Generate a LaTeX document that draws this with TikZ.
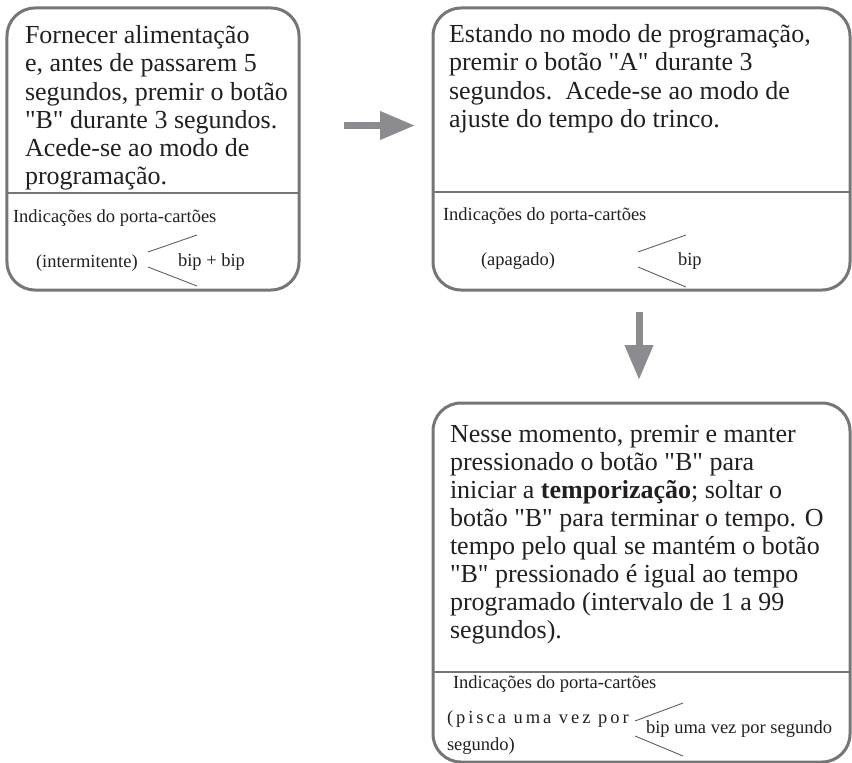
\documentclass[tikz,border=0pt]{standalone}
\usepackage{fontspec}
\setmainfont{Liberation Serif}[Ligatures=TeXOff]
\newfontfamily\spacedfont[LetterSpace=16,Ligatures=TeXOff]{Liberation Serif}
\usetikzlibrary{arrows.meta}
\definecolor{boxgray}{HTML}{767676}
\definecolor{arrgray}{HTML}{8C8C90}
\definecolor{txtblack}{HTML}{231F20}
\definecolor{diaggray}{HTML}{606060}
\newcommand{\bigtxt}{\fontsize{26bp}{28bp}\selectfont}
\newcommand{\smalltxt}{\fontsize{18.5bp}{22bp}\selectfont}
\begin{document}
\begin{tikzpicture}[x=1bp,y=-1bp,
  box/.style={draw=boxgray, line width=3bp, rounded corners=28bp, inner sep=0pt, outer sep=0pt},
  txt/.style={anchor=base west, inner sep=0pt, outer sep=0pt, text=txtblack},
  sepline/.style={draw=boxgray, line width=2bp},
  diag/.style={draw=diaggray, line width=0.9bp},
  bigarrow/.style={draw=arrgray, line width=7bp, -{Triangle[length=35bp,width=27bp]}}
]
\useasboundingbox (0,0) rectangle (852,763);

% boxes
\node[box, minimum width=292bp, minimum height=282bp] (b1) at (153,149) {};
\node[box, minimum width=417bp, minimum height=282bp] (b2) at (641.5,149) {};
\node[box, minimum width=417bp, minimum height=359bp] (b3) at (641.5,582.5) {};

% separators
\coordinate (s1) at (0,193);
\coordinate (s2) at (0,192);
\coordinate (s3) at (0,672);
\draw[sepline] (b1.west |- s1) -- (b1.east |- s1);
\draw[sepline] (b2.west |- s2) -- (b2.east |- s2);
\draw[sepline] (b3.west |- s3) -- (b3.east |- s3);

% main texts
\node[txt] (t1) at (25,44) {\parbox[t]{290bp}{\bigtxt\raggedright
Fornecer alimentação\\
e, antes de passarem 5\\
segundos, premir o botão\\
"B" durante 3 segundos.\\
Acede-se ao modo de\\
programação.}};
\node[txt] (t2) at (449,43) {\parbox[t]{400bp}{\bigtxt\raggedright
Estando no modo de programação,\\
premir o botão "A" durante 3\\
segundos.\ \ Acede-se ao modo de\\
ajuste do tempo do trinco.}};
\node[txt] (t3) at (450,442) {\parbox[t]{400bp}{\bigtxt\raggedright
Nesse momento, premir e manter\\
pressionado o botão "B" para\\
iniciar a \textbf{temporização}; soltar o\\
botão "B" para terminar o tempo. O\\
tempo pelo qual se mantém o botão\\
"B" pressionado é igual ao tempo\\
programado (intervalo de 1 a 99\\
segundos).}};

% indicator texts
\node[txt] (i1) at (13,222) {\smalltxt Indicações do porta-cartões};
\node[txt] (i2) at (443,220) {\smalltxt Indicações do porta-cartões};
\node[txt] (i3) at (453,688) {\smalltxt Indicações do porta-cartões};

\node[txt] (l1) at (36,267) {\smalltxt (intermitente)};
\node[txt] (r1) at (178,266) {\smalltxt bip + bip};
\node[txt] (l2) at (481,265) {\smalltxt (apagado)};
\node[txt] (r2) at (678,265) {\smalltxt bip};
\node[txt] (l3a) at (447,723) {\spacedfont\smalltxt (pisca uma vez por};
\node[txt] (l3b) at (447,750) {\smalltxt segundo)};
\node[txt] (r3) at (646,733) {\smalltxt bip uma vez por segundo};

% diagonal marks
\coordinate (d1a) at (148,252); \coordinate (d1b) at (197,235);
\coordinate (d1c) at (148,267); \coordinate (d1d) at (197,286);
\draw[diag] (d1a) -- (d1b);
\draw[diag] (d1c) -- (d1d);
\coordinate (d2a) at (638,252); \coordinate (d2b) at (686,235);
\coordinate (d2c) at (638,267); \coordinate (d2d) at (686,287);
\draw[diag] (d2a) -- (d2b);
\draw[diag] (d2c) -- (d2d);
\coordinate (d3a) at (635,721); \coordinate (d3b) at (683,703);
\coordinate (d3c) at (635,736); \coordinate (d3d) at (683,756);
\draw[diag] (d3a) -- (d3b);
\draw[diag] (d3c) -- (d3d);

% arrows
\coordinate (a1s) at (344,125.5);
\coordinate (a1e) at (415,125.5);
\draw[bigarrow] (a1s) -- (a1e);
\coordinate (a2s) at (639,312);
\coordinate (a2e) at (639,380);
\draw[bigarrow] (a2s) -- (a2e);
\end{tikzpicture}
\end{document}
